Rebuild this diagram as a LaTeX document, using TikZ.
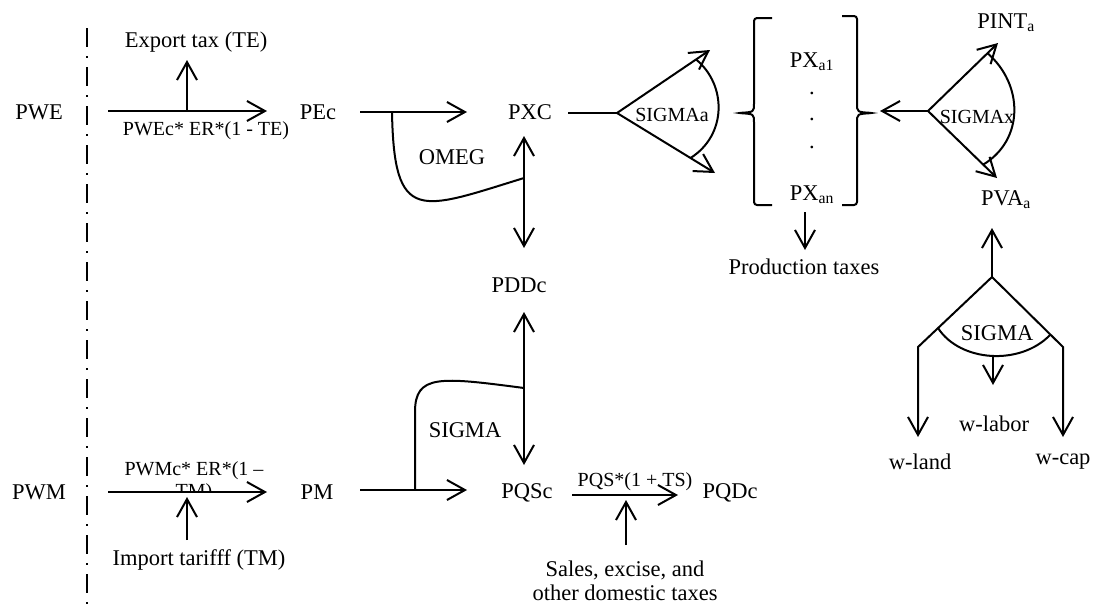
\documentclass[tikz,border=0pt]{standalone}
\usepackage{fontspec}
\setmainfont{Liberation Serif}
\usetikzlibrary{arrows.meta,calc}

\begin{document}
\begin{tikzpicture}[
    x=1pt, y=-1pt,
    every node/.style={anchor=center, inner sep=0pt},
    price/.style={font=\fontsize{22.5}{24}\selectfont},
    note/.style={font=\fontsize{20}{22}\selectfont},
    arrow/.style={-{Straight Barb[length=18pt,width=20pt]}, line width=2pt},
    twoway/.style={{Straight Barb[length=18pt,width=20pt]}-{Straight Barb[length=18pt,width=20pt]}, line width=2pt},
    link/.style={line width=2pt},
    bracket/.style={line width=2pt, rounded corners=3pt},
    border/.style={line width=2pt, dash pattern=on 19pt off 9pt on 2pt off 9pt}
    ]
\useasboundingbox (0,0) rectangle (1095,606);

% Border
\coordinate (border top) at (87,28);
\coordinate (border bottom) at (87,606);
\draw[border] (border top) -- (border bottom);

% World prices
\node[price] (PWE) at (39,112) {PWE};
\node[price] (PWM) at (39,492) {PWM};

% Export side
\node[price] (TE) at (196,42) {Export tax (TE)};
\node[note] (PWEc) at (206,131) {PWEc* ER*(1 - TE)};
\node[price] (PEc) at (318,112) {PEc};
\node[price] (PXC) at (530,112) {PXC};
\node[price] (OMEG) at (452,157) {OMEG};
\node[price] (PDDc) at (519,285) {PDDc};

\coordinate (pwe out) at (108,111);
\coordinate (pec in) at (267,111);
\coordinate (te base) at (187,111);
\coordinate (te tip) at (187,60);
\coordinate (pec out) at (360,112);
\coordinate (pxc in) at (467,112);
\coordinate (omeg top) at (392,112);
\coordinate (omeg end) at (524,178);
\coordinate (pxc low) at (524,136);
\coordinate (pddc up) at (524,248);

\draw[arrow] (pwe out) -- (pec in);
\draw[arrow] (te base) -- (te tip);
\draw[arrow] (pec out) -- (pxc in);
\draw[link] (omeg top) .. controls (394,225) and (420,210) .. (omeg end);
\draw[twoway] (pxc low) -- (pddc up);

% Import side
\node[price] (TM) at (199,560) {Import tarifff (TM)};
\begin{scope}
\clip (100,440) rectangle (290,491);
\node[note, align=center] (PWMc) at (194,482) {PWMc* ER*(1 –\\TM)};
\end{scope}
\node[price] (PM) at (317,492) {PM};
\node[price] (SIGMAm) at (465,430) {SIGMA};
\node[price] (PQSc) at (527,493) {PQSc};
\node[note] (PQS) at (635,482) {PQS*(1 + TS)};
\node[price] (PQDc) at (730,493) {PQDc};
\node[price, align=center] (TS) at (625,581) {Sales, excise, and\\other domestic taxes};

\coordinate (pwm out) at (108,492);
\coordinate (pm in) at (267,492);
\coordinate (tm base) at (187,540);
\coordinate (tm tip) at (187,497);
\coordinate (pm out) at (360,490);
\coordinate (pqsc in) at (467,490);
\coordinate (sigma foot) at (415,490);
\coordinate (sigma end) at (524,388);
\coordinate (pddc low) at (524,312);
\coordinate (pqsc up) at (524,465);
\coordinate (pqsc out) at (572,495);
\coordinate (pqdc in) at (678,495);
\coordinate (ts base) at (626,545);
\coordinate (ts tip) at (626,500);

\draw[arrow] (pwm out) -- (pm in);
\draw[arrow] (tm base) -- (tm tip);
\draw[arrow] (pm out) -- (pqsc in);
\draw[link] (sigma foot) -- (415,412) .. controls (415,374) and (440,377) .. (sigma end);
\draw[twoway] (pddc low) -- (pqsc up);
\draw[arrow] (pqsc out) -- (pqdc in);
\draw[arrow] (ts base) -- (ts tip);

% Activity output
\node[note] (SIGMAa) at (672,115) {SIGMAa};
\node[price] (PXa1) at (812,62) {PX\textsubscript{a1}};
\node[price, anchor=base] (dot1) at (812,94) {.};
\node[price, anchor=base] (dot2) at (812,120) {.};
\node[price, anchor=base] (dot3) at (812,148) {.};
\node[price] (PXan) at (812,195) {PX\textsubscript{an}};
\node[price] (PTax) at (804,267) {Production taxes};

\coordinate (pxc out) at (568,113);
\coordinate (sa apex) at (617,113);
\coordinate (sa up) at (710,50);
\coordinate (sa low) at (715,173);
\coordinate (px down) at (805,212);
\coordinate (tax tip) at (805,250);

\draw[link] (pxc out) -- (sa apex);
\draw[arrow] (sa apex) -- (sa up);
\draw[arrow] (sa apex) -- (sa low);
\draw[link] ($(sa apex)!0.85!(sa up)$) .. controls (727,85) and (727,135) .. ($(sa apex)!0.75!(sa low)$);
\draw[arrow] (px down) -- (tax tip);

% Brackets
\draw[bracket] (772,18) -- (754,18) -- (754,100) .. controls (754,112) .. (738,113)
    .. controls (754,114) .. (754,126) -- (754,205) -- (772,205);
\draw[bracket] (842,16) -- (857,16) -- (857,100) .. controls (857,112) .. (873,113)
    .. controls (857,114) .. (857,126) -- (857,205) -- (842,205);

% Activity input
\node[note] (SIGMAx) at (977,117) {SIGMAx};
\node[price] (PINT) at (1006,23) {PINT\textsubscript{a}};
\node[price] (PVA) at (1006,200) {PVA\textsubscript{a}};

\coordinate (sx apex) at (928,111);
\coordinate (px in) at (880,111);
\coordinate (sx up) at (998,43);
\coordinate (sx low) at (997,178);

\draw[arrow] (sx apex) -- (px in);
\draw[arrow] (sx apex) -- (sx up);
\draw[arrow] (sx apex) -- (sx low);
\draw[link] ($(sx apex)!0.85!(sx up)$) .. controls (1024,85) and (1024,140) .. ($(sx apex)!0.8!(sx low)$);

% Value added
\node[price] (SIGMAv) at (997,333) {SIGMA};
\node[price] (wlabor) at (994,424) {w-labor};
\node[price] (wland) at (920,462) {w-land};
\node[price] (wcap) at (1063,462) {w-cap};

\coordinate (va apex) at (992,277);
\coordinate (pva in) at (992,228);
\coordinate (land corner) at (918,347);
\coordinate (cap corner) at (1063,347);
\coordinate (land tip) at (918,437);
\coordinate (cap tip) at (1063,437);
\coordinate (labor top) at (993,357);
\coordinate (labor tip) at (993,385);

\draw[arrow] (va apex) -- (pva in);
\draw[arrow] (va apex) -- (land corner) -- (land tip);
\draw[arrow] (va apex) -- (cap corner) -- (cap tip);
\draw[link] (938,328) .. controls (960,362) and (1020,366) .. (1050,335);
\draw[arrow] (labor top) -- (labor tip);

\end{tikzpicture}
\end{document}
